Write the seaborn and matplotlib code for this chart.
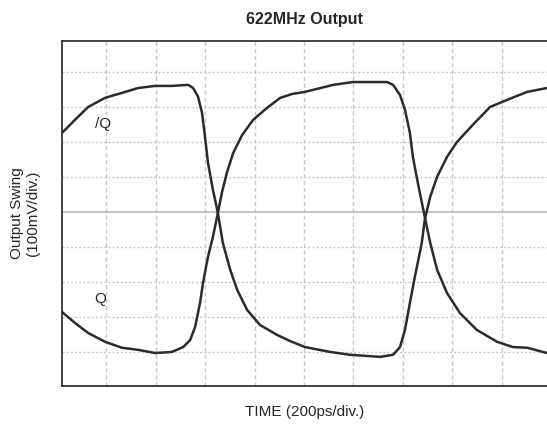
import pandas as pd
import seaborn as sns
import matplotlib.pyplot as plt

# Scope trace in divisions (x: 200ps/div, y: 100mV/div)
qbar_x = [-0.89, -0.63, -0.36, -0.02, 0.32, 0.65, 0.99, 1.33, 1.66, 1.76, 1.86, 1.94, 2.00,
          2.06, 2.16, 2.26, 2.36, 2.51, 2.65, 2.85, 3.11, 3.45, 3.72, 4.02, 4.53, 4.93, 5.54,
          5.80, 5.94, 6.04, 6.14, 6.24, 6.38, 6.44, 6.55, 6.69, 6.89, 7.09, 7.41, 7.76, 8.10,
          8.51, 8.91]
qbar_y = [2.25, 2.62, 2.99, 3.25, 3.39, 3.53, 3.59, 3.59, 3.62, 3.53, 3.28, 2.82, 2.14,
          1.40, 0.63, -0.03, -0.88, -1.65, -2.22, -2.79, -3.22, -3.50, -3.68, -3.85, -3.99, -4.07, -4.13,
          -4.07, -3.85, -3.36, -2.59, -1.85, -0.88, -0.23, 0.43, 1.00, 1.57, 1.99, 2.48, 2.99, 3.19,
          3.42, 3.53]

q_x = [-0.89, -0.63, -0.36, -0.02, 0.32, 0.65, 0.99, 1.33, 1.56, 1.70, 1.80, 1.90, 1.96,
       2.06, 2.16, 2.26, 2.34, 2.44, 2.57, 2.75, 2.97, 3.25, 3.52, 3.76, 4.02, 4.59, 4.99,
       5.68, 5.80, 5.94, 6.04, 6.14, 6.20, 6.30, 6.44, 6.55, 6.69, 6.89, 7.15, 7.49, 7.90,
       8.22, 8.51, 8.91]
q_y = [-2.85, -3.16, -3.45, -3.70, -3.87, -3.93, -4.02, -3.99, -3.85, -3.65, -3.28, -2.59, -2.02,
       -1.28, -0.71, -0.03, 0.54, 1.11, 1.68, 2.19, 2.62, 2.96, 3.25, 3.36, 3.42, 3.62, 3.70,
       3.70, 3.62, 3.33, 2.91, 2.25, 1.57, 0.83, -0.14, -0.88, -1.65, -2.31, -2.88, -3.36, -3.70,
       -3.85, -3.87, -4.02]

df = pd.concat([
    pd.DataFrame({'t': qbar_x, 'v': qbar_y, 'sig': '/Q'}),
    pd.DataFrame({'t': q_x, 'v': q_y, 'sig': 'Q'}),
])

sns.set_style('white')
plt.rcParams['font.family'] = ['Liberation Sans', 'DejaVu Sans']

fig = plt.figure(figsize=(5.47, 4.30), dpi=100)
ax = fig.add_axes([0.1133, 0.1023, 0.8867, 0.8024])

# scope graticule
for gx in range(0, 9):
    ax.axvline(gx, color='#c8c8c8', lw=1.0, ls=(0, (3, 2)), zorder=0)
for gy in range(-4, 5):
    if gy == 0:
        ax.axhline(gy, color='#c0c0c0', lw=1.3, zorder=0)
    else:
        ax.axhline(gy, color='#c8c8c8', lw=1.0, ls=(0, (1.5, 1.5)), zorder=0)

sns.lineplot(data=df, x='t', y='v', units='sig', estimator=None, sort=False,
             color='#2b2b2b', lw=1.8, ax=ax, legend=False,
             solid_joinstyle='round', solid_capstyle='round')

ax.text(-0.06, 2.51, '/Q', fontsize=11, ha='center', va='center')
ax.text(-0.12, -2.48, 'Q', fontsize=11, ha='center', va='center')

ax.set_xlim(-0.89, 8.91)
ax.set_ylim(-4.96, 4.87)
ax.set_xticks([])
ax.set_yticks([])
ax.set_xlabel('TIME (200ps/div.)', fontsize=11, labelpad=14)
ax.set_ylabel('Output Swing\n(100mV/div.)', fontsize=11, labelpad=16)
ax.set_title('622MHz Output', fontsize=11.5, fontweight='bold', pad=12)

for side in ['left', 'top', 'bottom']:
    ax.spines[side].set_color('#222222')
    ax.spines[side].set_linewidth(1.2)
ax.spines['right'].set_visible(False)

fig.savefig('out.png', dpi=100)
